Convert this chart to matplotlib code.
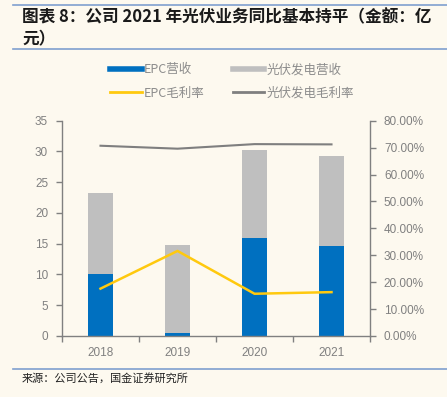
import matplotlib.pyplot as plt
import numpy as np
from matplotlib.lines import Line2D

plt.rcParams['font.family'] = ['Noto Sans CJK SC', 'DejaVu Sans']

# values (revenue in 100m yuan, margins in %)
years = ['2018', '2019', '2020', '2021']
epc_revenue = [10.1, 0.5, 16.0, 14.7]
pv_revenue = [13.2, 14.3, 14.2, 14.6]
epc_margin = [17.6, 31.6, 15.7, 16.3]
pv_margin = [70.7, 69.6, 71.3, 71.2]

left_ticks = [0, 5, 10, 15, 20, 25, 30, 35]
right_ticks = [0, 10, 20, 30, 40, 50, 60, 70, 80]

BG = '#FDF9EF'
BLUE = '#0070C0'
GREY_BAR = '#BFBFBF'
YELLOW = '#FFC90E'
GREY_LINE = '#7F7F7F'
AXIS = '#808080'
RULE = '#7F9FCF'
NUM_FONT = ['Liberation Sans', 'DejaVu Sans']

fig = plt.figure(figsize=(4.47, 3.97), dpi=100, facecolor=BG)

# title, rules and source line
fig.add_artist(Line2D([13 / 447, 1], [1 - 5 / 397] * 2, color=RULE, lw=1.2))
fig.text(22 / 447, 1 - 17 / 397, '图表 8：公司 2021 年光伏业务同比基本持平（金额：亿',
         fontsize=12, fontweight='bold', style='italic', va='center', color='#1a1a1a')
fig.text(22 / 447, 1 - 39 / 397, '元）', fontsize=12, fontweight='bold', style='italic',
         va='center', color='#1a1a1a')
fig.add_artist(Line2D([13 / 447, 1], [1 - 49 / 397] * 2, color=RULE, lw=1.2))
fig.add_artist(Line2D([13 / 447, 1], [1 - 369 / 397] * 2, color=RULE, lw=1.2))
fig.text(22 / 447, 1 - 378 / 397, '来源：公司公告，国金证券研究所', fontsize=8,
         va='center', color='#222222')

ax = fig.add_axes([62 / 447, 1 - 336 / 397, 308 / 447, 215.3 / 397])
ax.set_facecolor(BG)
x = np.arange(len(years))
width = 0.32
ax.bar(x, epc_revenue, width, color=BLUE, zorder=2)
ax.bar(x, pv_revenue, width, bottom=epc_revenue, color=GREY_BAR, zorder=2)
ax.set_ylim(0, 35)
ax.set_xlim(-0.5, 3.5)
ax.set_yticks(left_ticks)
ax.set_yticklabels([str(v) for v in left_ticks], family=NUM_FONT)
# ticks sit between categories, labels at the centres
ax.set_xticks(np.arange(-0.5, 4, 1))
ax.set_xticklabels([])
ax.set_xticks(x, minor=True)
ax.set_xticklabels(years, minor=True, family=NUM_FONT)
ax.tick_params(axis='x', which='minor', length=0, pad=8, labelsize=8.5, labelcolor=AXIS)
ax.tick_params(axis='x', which='major', length=4, color=AXIS, width=1)
ax.tick_params(axis='y', length=4, color=AXIS, width=1, labelsize=8.5, labelcolor=AXIS, pad=6)
for side in ['left', 'bottom']:
    ax.spines[side].set_color(AXIS)
    ax.spines[side].set_linewidth(1)
ax.spines['top'].set_visible(False)
ax.spines['right'].set_visible(False)

ax2 = ax.twinx()
ax2.plot(x, epc_margin, color=YELLOW, lw=1.8, zorder=3)
ax2.plot(x, pv_margin, color=GREY_LINE, lw=1.5, zorder=3)
ax2.set_ylim(0, 80)
ax2.set_yticks(right_ticks)
ax2.set_yticklabels([f'{v:.2f}%' for v in right_ticks], family=NUM_FONT)
ax2.tick_params(axis='y', length=4, color=AXIS, width=1, labelsize=8.5, labelcolor=AXIS, pad=6)
ax2.spines['right'].set_color(AXIS)
ax2.spines['right'].set_linewidth(1)
for side in ['left', 'top', 'bottom']:
    ax2.spines[side].set_visible(False)

handles = [
    Line2D([], [], color=BLUE, lw=4),
    Line2D([], [], color=YELLOW, lw=2),
    Line2D([], [], color=GREY_BAR, lw=4),
    Line2D([], [], color=GREY_LINE, lw=2),
]
labels = ['EPC营收', 'EPC毛利率', '光伏发电营收', '光伏发电毛利率']
fig.legend(handles, labels, ncol=2, loc='center', bbox_to_anchor=(232 / 447, 1 - 81.5 / 397),
           frameon=False, fontsize=9, labelcolor='#8c8c8c', handlelength=2.5,
           columnspacing=2.3, handletextpad=0.15, labelspacing=0.85)

fig.savefig('out.png', dpi=100, facecolor=BG)
